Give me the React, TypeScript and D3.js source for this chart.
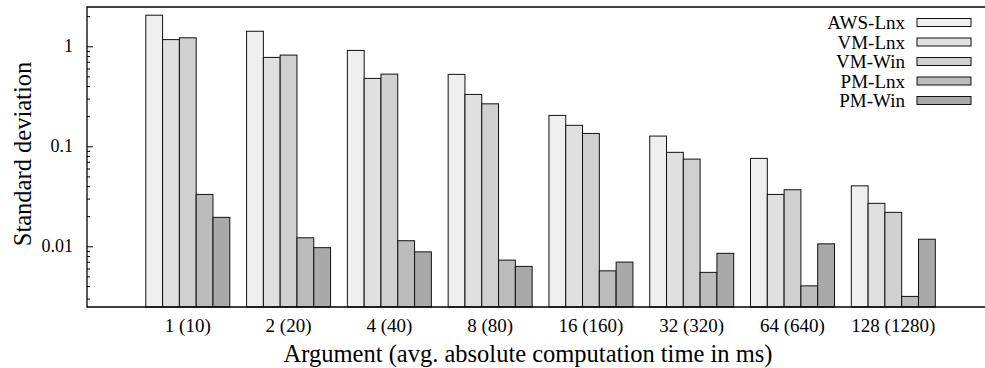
import { useEffect, useRef } from "react";
import * as d3 from "d3";

const categories = ["1 (10)", "2 (20)", "4 (40)", "8 (80)", "16 (160)", "32 (320)", "64 (640)", "128 (1280)"];
const seriesNames = ["AWS-Lnx", "VM-Lnx", "VM-Win", "PM-Lnx", "PM-Win"];
const seriesColors = ["#efefef", "#e0e0e0", "#d0d0d0", "#bcbcbc", "#a9a9a9"];

const awsLnx = [2.07, 1.43, 0.92, 0.53, 0.206, 0.128, 0.0766, 0.0407];
const vmLnx = [1.18, 0.783, 0.483, 0.334, 0.164, 0.088, 0.0334, 0.0272];
const vmWin = [1.23, 0.826, 0.533, 0.269, 0.136, 0.0753, 0.0372, 0.0221];
const pmLnx = [0.0334, 0.0123, 0.0115, 0.00736, 0.00575, 0.00555, 0.00407, 0.00319];
const pmWin = [0.0197, 0.0098, 0.0089, 0.00637, 0.00703, 0.0086, 0.0107, 0.0119];

const yTicks = [1, 0.1, 0.01];

export default function App() {
  const svgRef = useRef<SVGSVGElement>(null);

  useEffect(() => {
    if (!svgRef.current) return;
    const svg = d3.select(svgRef.current);
    svg.selectAll("*").remove();

    const width = 985;
    const height = 368;
    const left = 87, right = 984, top = 7, bottom = 307;
    const font = '"Liberation Serif"';
    const series = [awsLnx, vmLnx, vmWin, pmLnx, pmWin];

    const x = d3.scaleLinear().domain([-1, 7.9]).range([left, right]);
    const y = d3.scaleLog().domain([0.0025, 2.5]).range([bottom, top]);
    const barW = 1 / 6; // in category units

    svg.attr("width", width).attr("height", height);
    svg.append("rect").attr("width", width).attr("height", height).attr("fill", "#fff");

    // bars
    const bars = svg.append("g");
    series.forEach((vals, j) => {
      vals.forEach((v, i) => {
        const x0 = x(i + (j - 2.5) * barW);
        const x1 = x(i + (j - 1.5) * barW);
        bars
          .append("rect")
          .attr("x", x0)
          .attr("y", y(v))
          .attr("width", x1 - x0)
          .attr("height", bottom - y(v))
          .attr("fill", seriesColors[j])
          .attr("stroke", "#111")
          .attr("stroke-width", 1);
      });
    });

    // frame
    svg
      .append("path")
      .attr("d", `M${right + 10},${top}H${left}V${bottom}H${right + 10}`)
      .attr("fill", "none")
      .attr("stroke", "#000")
      .attr("stroke-width", 1.3);

    const label = (sel: d3.Selection<SVGTextElement, unknown, null, undefined>, size: number) =>
      sel.style("font-family", font).style("font-size", `${size}px`).attr("fill", "#000");

    // y ticks, major + minor
    const minor: number[] = [];
    [0.001, 0.01, 0.1, 1].forEach((d) => {
      for (let k = 2; k <= 9; k++) {
        const v = d * k;
        if (v >= 0.0025 && v <= 2.5) minor.push(v);
      }
    });
    const ticks = svg.append("g");
    minor.forEach((v) => {
      ticks.append("line").attr("x1", left).attr("x2", left + 3)
        .attr("y1", y(v)).attr("y2", y(v)).attr("stroke", "#000");
    });
    yTicks.forEach((v) => {
      ticks.append("line").attr("x1", left).attr("x2", left + 6)
        .attr("y1", y(v)).attr("y2", y(v)).attr("stroke", "#000");
      const t = svg.append("text")
        .attr("x", 73)
        .attr("y", y(v) + 5.5)
        .attr("text-anchor", "end")
        .text(String(v));
      label(t as any, 18);
    });

    // x labels
    categories.forEach((c, i) => {
      const t = svg.append("text")
        .attr("x", x(i))
        .attr("y", 331.5)
        .attr("text-anchor", "middle")
        .text(c);
      label(t as any, 19);
    });

    // axis titles
    label(svg.append("text")
      .attr("x", 528)
      .attr("y", 361.5)
      .attr("text-anchor", "middle")
      .text("Argument (avg. absolute computation time in ms)") as any, 24.5);

    label(svg.append("text")
      .attr("transform", `translate(31,154) rotate(-90)`)
      .attr("text-anchor", "middle")
      .text("Standard deviation") as any, 24.5);

    // legend
    const legend = svg.append("g");
    seriesNames.forEach((name, j) => {
      const cy = 22.5 + j * 19.5;
      label(legend.append("text")
        .attr("x", 905)
        .attr("y", cy + 6.5)
        .attr("text-anchor", "end")
        .text(name) as any, 19);
      legend.append("rect")
        .attr("x", 917)
        .attr("y", cy - 4)
        .attr("width", 54)
        .attr("height", 8)
        .attr("fill", seriesColors[j])
        .attr("stroke", "#111")
        .attr("stroke-width", 1);
    });
  }, []);

  return (
    <svg
      ref={svgRef}
      style={{ position: "absolute", left: 0, top: 0, display: "block" }}
    />
  );
}
